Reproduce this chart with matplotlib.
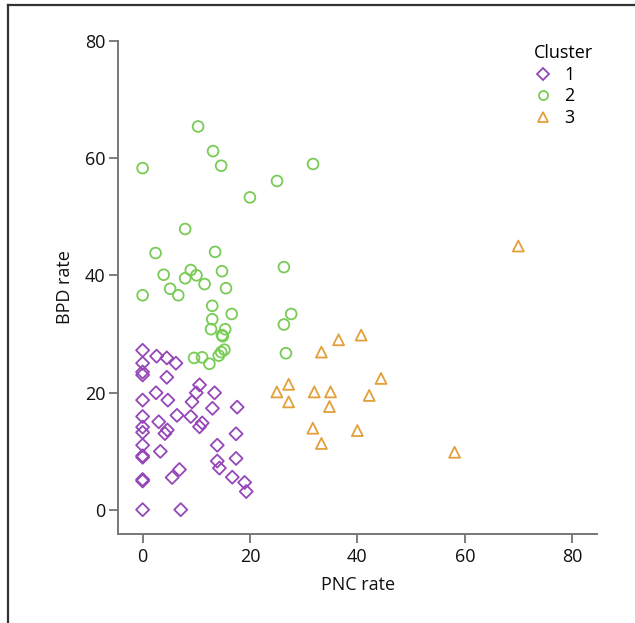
import matplotlib
matplotlib.use("Agg")
import matplotlib.pyplot as plt
from matplotlib.lines import Line2D

plt.rcParams['font.family'] = ['Open Sans', 'DejaVu Sans']

# Cluster 1 (purple diamonds)
c1_x = [0, 2.6, 4.5, 6.2, 0, 0, 0, 4.5, 10.6, 10.0, 13.4, 2.5, 0, 4.7, 9.2, 17.6,
        13.0, 0, 6.4, 8.97, 3.0, 11.1, 10.6, 0, 0, 4.6, 4.15, 17.4, 0, 13.9,
        3.3, 0, 0, 17.4, 13.9, 14.3, 6.86, 5.5, 16.7, 19.0, 19.3, 0, 0, 0, 7.1]
c1_y = [27.2, 26.2, 25.9, 25.0, 25.0, 23.5, 23.0, 22.6, 21.3, 19.95, 19.95, 19.95, 18.7, 18.7, 18.4, 17.5,
        17.3, 15.9, 16.1, 15.9, 15.0, 14.8, 14.15, 14.1, 13.2, 13.6, 13.0, 12.95, 11.0, 11.0,
        9.95, 9.2, 8.95, 8.75, 8.3, 7.1, 6.85, 5.5, 5.55, 4.65, 3.1, 5.15, 4.9, 0, 0]

# Cluster 2 (green circles)
c2_x = [10.33, 13.12, 0, 14.63, 31.74, 25.03, 19.98, 7.92, 2.41, 13.5, 26.31, 3.92,
        8.97, 10.03, 7.92, 14.78, 11.54, 5.13, 6.64, 0, 15.53, 12.97, 16.59, 27.67,
        12.97, 26.31, 12.74, 15.38, 14.78, 14.93, 26.69, 15.23, 14.63, 14.18, 9.58,
        11.08, 12.44]
c2_y = [65.4, 61.2, 58.3, 58.7, 59.0, 56.1, 53.3, 47.9, 43.8, 44.0, 41.4, 40.1,
        40.9, 40.0, 39.5, 40.7, 38.5, 37.7, 36.6, 36.6, 37.8, 34.8, 33.4, 33.4,
        32.5, 31.6, 30.8, 30.8, 29.8, 29.6, 26.7, 27.3, 26.9, 26.3, 25.9,
        26.0, 24.9]

# Cluster 3 (orange triangles)
c3_x = [69.97, 40.7, 36.5, 33.3, 44.4, 27.2, 25.0, 31.97, 35.0, 42.2, 27.2, 34.8,
        31.7, 40.0, 33.3, 58.1]
c3_y = [45.0, 29.8, 29.0, 26.9, 22.4, 21.4, 20.1, 20.1, 20.1, 19.5, 18.4, 17.6,
        13.9, 13.5, 11.3, 9.8]

cluster_labels = ["1", "2", "3"]
x_ticks = [0, 20, 40, 60, 80]
y_ticks = [0, 20, 40, 60, 80]

purple = "#9646b8"
green = "#78cc55"
orange = "#e3a03a"

fig = plt.figure(figsize=(6.35, 6.23), dpi=100)
ax = fig.add_axes([0.1857, 0.1435, 0.7551, 0.7908])

ax.scatter(c1_x, c1_y, marker='D', s=44, facecolors='none', edgecolors=purple, linewidths=1.3, label=cluster_labels[0])
ax.scatter(c2_x, c2_y, marker='o', s=60, facecolors='none', edgecolors=green, linewidths=1.3, label=cluster_labels[1])
ax.scatter(c3_x, c3_y, marker='^', s=62, facecolors='none', edgecolors=orange, linewidths=1.3, label=cluster_labels[2])

ax.set_xlim(-4.6, 84.7)
ax.set_ylim(-4.08, 80)
ax.set_xticks(x_ticks)
ax.set_yticks(y_ticks)
ax.tick_params(axis='both', length=6.3, width=1.2, color='#666666', labelsize=13, labelcolor='#111111')
ax.tick_params(axis='y', pad=2.5)
ax.tick_params(axis='x', pad=4)

for s in ['top', 'right']:
    ax.spines[s].set_visible(False)
for s in ['left', 'bottom']:
    ax.spines[s].set_color('#777777')
    ax.spines[s].set_linewidth(1.4)

ax.set_xlabel("PNC rate", fontsize=13, labelpad=7, color='#111111')
ax.set_ylabel("BPD rate", fontsize=13, labelpad=8, color='#111111')

handles = [
    Line2D([], [], marker='D', linestyle='none', markerfacecolor='none', markeredgecolor=purple, markersize=6, markeredgewidth=1.3),
    Line2D([], [], marker='o', linestyle='none', markerfacecolor='none', markeredgecolor=green, markersize=6.5, markeredgewidth=1.3),
    Line2D([], [], marker='^', linestyle='none', markerfacecolor='none', markeredgecolor=orange, markersize=7, markeredgewidth=1.3),
]
leg = ax.legend(handles, cluster_labels, title="Cluster", loc='upper left',
                bbox_to_anchor=(0.852, 1.008), frameon=False, fontsize=13,
                title_fontsize=13, handlelength=1.0, handletextpad=0.7,
                labelspacing=0.2, alignment='left', borderaxespad=0)

# outer panel frame (left and top edges)
fig.add_artist(Line2D([7.5 / 635, 7.5 / 635], [0, 1 - 5 / 623], transform=fig.transFigure, color='#333333', linewidth=1.6))
fig.add_artist(Line2D([7.5 / 635, 1], [1 - 5 / 623, 1 - 5 / 623], transform=fig.transFigure, color='#333333', linewidth=1.6))

fig.savefig("out.png", dpi=100)
